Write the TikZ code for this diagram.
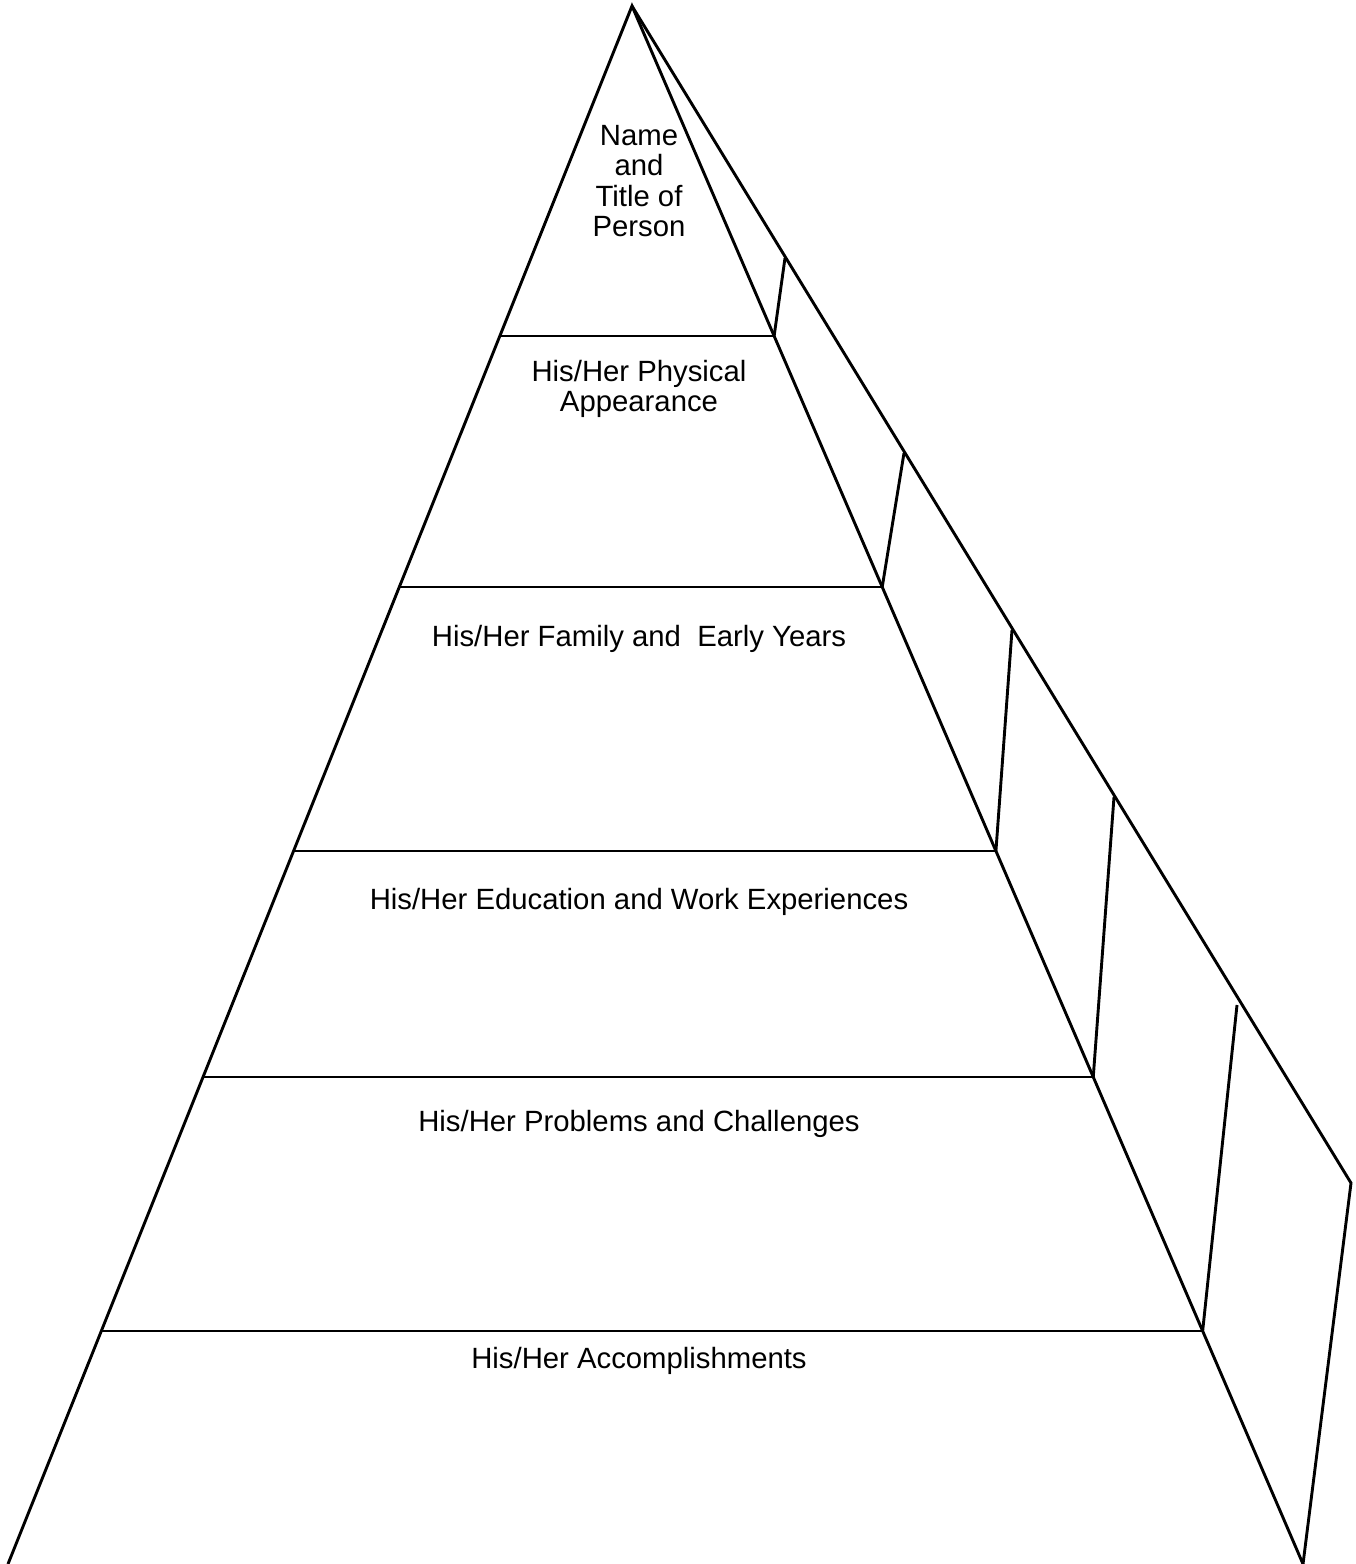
\documentclass[tikz,border=0pt]{standalone}
\usepackage{fontspec}
\setmainfont{Liberation Sans}
\usetikzlibrary{calc}
\begin{document}
\begin{tikzpicture}[x=1pt,y=-1pt,line width=2.9pt,
  lvl/.style={font=\fontsize{29.3}{30.5}\selectfont,align=center,inner sep=0pt}]
\useasboundingbox (0,0) rectangle (1356,1564);

% front face and side face
\coordinate (top) at (632,6);
\coordinate (botL) at (8,1564);
\coordinate (botR) at (1303,1564);
\coordinate (back) at (1351,1183);
\draw (botL)--(top)--(botR);
\draw (top)--(back)--(botR);

% levels
\foreach \n/\y/\bx/\by in {1/336/785/258,2/587/904/453,3/851/1012/630,4/1077/1114/797,5/1331/1237/1005}{
  \pgfmathsetmacro\t{(\y-6)/1558}
  \coordinate (L\n) at ($(top)!\t!(botL)$);
  \coordinate (R\n) at ($(top)!\t!(botR)$);
  \coordinate (B\n) at (\bx,\by);
  \draw (L\n)--(R\n);
  \draw (R\n)--(B\n);
}

% labels
\node[lvl] (name) at (639,181) {Name\\and\\Title of\\Person};
\node[lvl] (looks) at (639,389) {His/Her Physical\\Appearance};
\node[lvl,anchor=base] (family) at (639,646.5) {His/Her Family and\ \ Early Years};
\node[lvl,anchor=base] (school) at (639,909.5) {His/Her Education and Work Experiences};
\node[lvl,anchor=base] (trouble) at (639,1131.5) {His/Her Problems and Challenges};
\node[lvl,anchor=base] (deeds) at (639,1368.5) {His/Her Accomplishments};
\end{tikzpicture}
\end{document}
